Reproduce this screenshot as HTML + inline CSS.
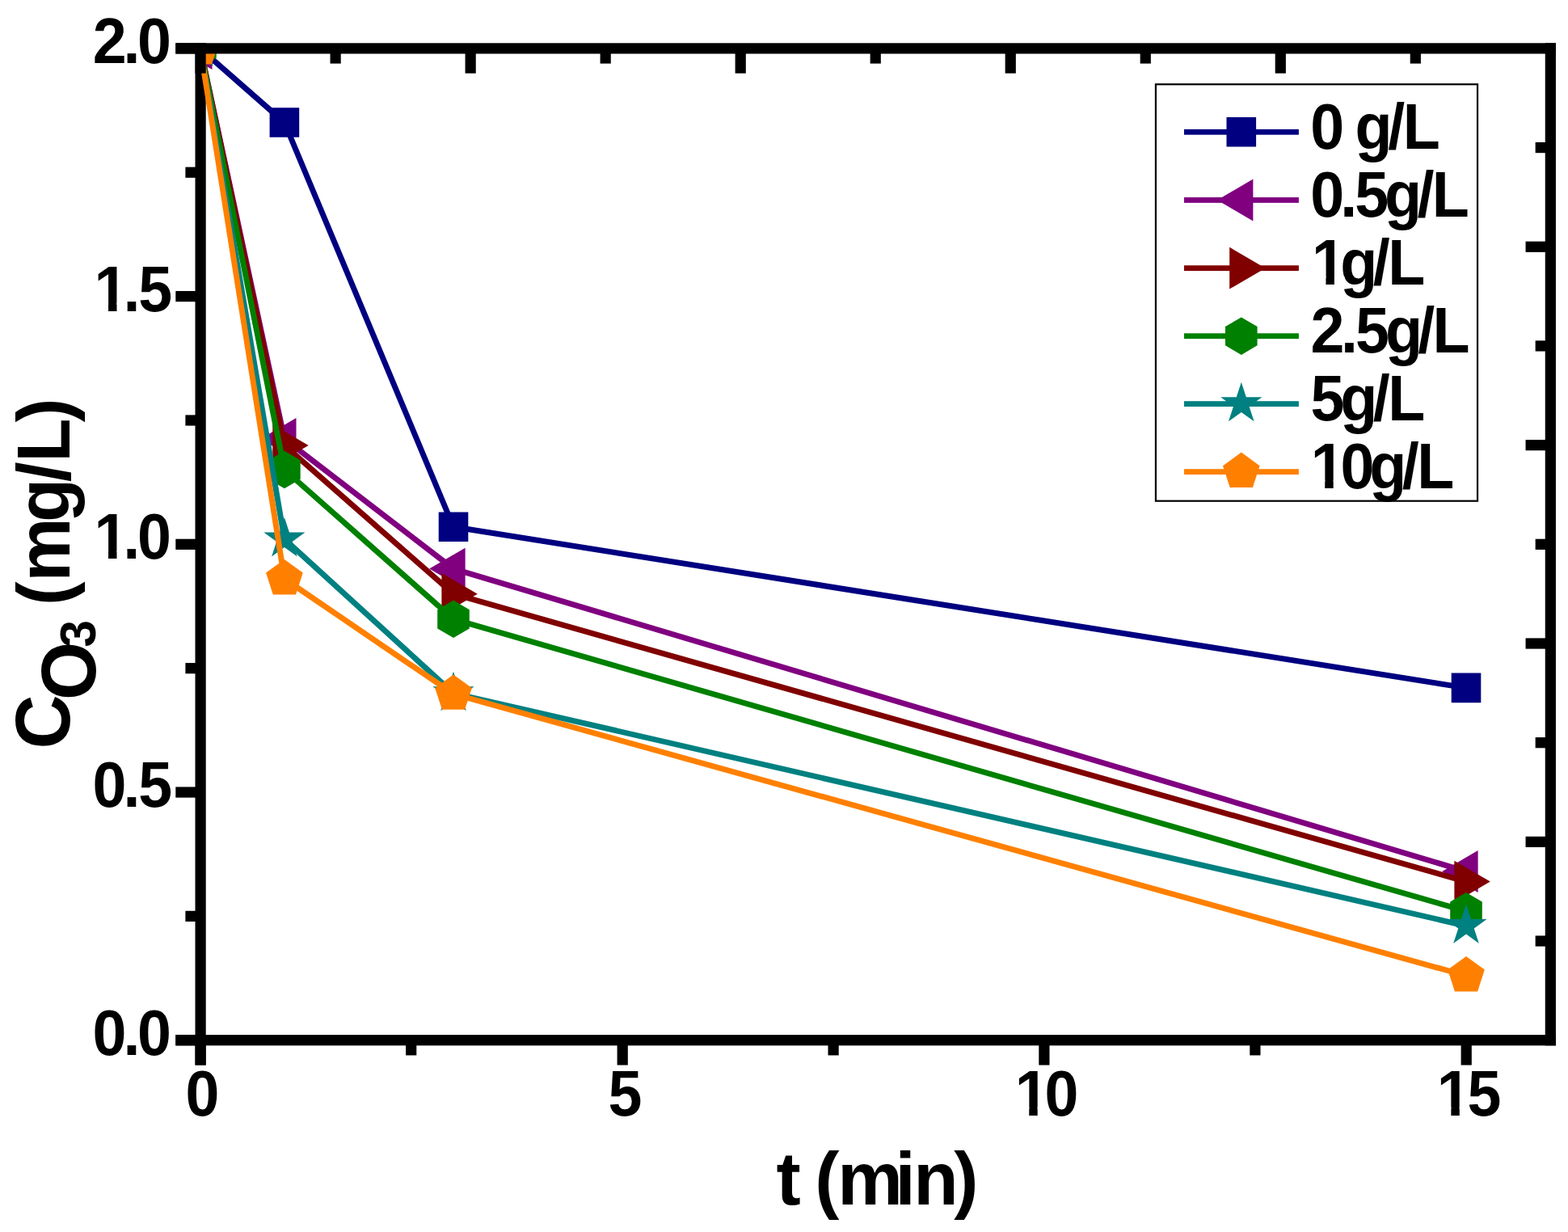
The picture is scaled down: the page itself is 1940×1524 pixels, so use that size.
<!DOCTYPE html>
<html lang="en">
<head>
<meta charset="utf-8">
<title>Ozone concentration versus time</title>
<style>
html,body{margin:0;padding:0;background:#fff;}
body{width:1940px;height:1524px;overflow:hidden;}
svg{display:block;}
text{white-space:pre;}
</style>
</head>
<body>
<svg width="1940" height="1524" viewBox="0 0 1940 1524">
<rect x="0" y="0" width="1940" height="1524" fill="#fff"/>
<g id="axes-under">
<rect x="241.5" y="53.3" width="13.2" height="1264.25" fill="#000"/>
<rect x="217.3" y="1280.15" width="1707.65" height="13.2" fill="#000"/>
<rect x="217.3" y="53.3" width="25.2" height="13.2" fill="#000"/>
<rect x="229.4" y="206.66" width="13.1" height="13.2" fill="#000"/>
<rect x="217.3" y="360.01" width="25.2" height="13.2" fill="#000"/>
<rect x="229.4" y="513.37" width="13.1" height="13.2" fill="#000"/>
<rect x="217.3" y="666.72" width="25.2" height="13.2" fill="#000"/>
<rect x="229.4" y="820.08" width="13.1" height="13.2" fill="#000"/>
<rect x="217.3" y="973.44" width="25.2" height="13.2" fill="#000"/>
<rect x="229.4" y="1126.79" width="13.1" height="13.2" fill="#000"/>
<rect x="217.3" y="1280.15" width="25.2" height="13.2" fill="#000"/>
<rect x="241.5" y="1292.35" width="13.2" height="25.2" fill="#000"/>
<rect x="502.1" y="1292.35" width="13.2" height="13.1" fill="#000"/>
<rect x="763.6" y="1292.35" width="13.2" height="25.2" fill="#000"/>
<rect x="1024.5" y="1292.35" width="13.2" height="13.1" fill="#000"/>
<rect x="1285.3" y="1292.35" width="13.2" height="25.2" fill="#000"/>
<rect x="1546.3" y="1292.35" width="13.2" height="13.1" fill="#000"/>
<rect x="1807.6" y="1292.35" width="13.2" height="25.2" fill="#000"/>
</g>
<clipPath id="plot"><rect x="248.1" y="59.9" width="1670.25" height="1226.85"/></clipPath>
<g id="data" clip-path="url(#plot)">
<g fill="#000080" stroke="none">
<polyline fill="none" stroke="#000080" stroke-width="7" stroke-linejoin="round" points="247.9,60.2 351.9,151.5 561,651.8 1814,850.9"/>
<polygon points="229.6,41.9 266.2,41.9 266.2,78.5 229.6,78.5"/>
<polygon points="333.6,133.2 370.2,133.2 370.2,169.8 333.6,169.8"/>
<polygon points="542.7,633.5 579.3,633.5 579.3,670.1 542.7,670.1"/>
<polygon points="1795.7,832.6 1832.3,832.6 1832.3,869.2 1795.7,869.2"/>
</g>
<g fill="#800080" stroke="none">
<polyline fill="none" stroke="#800080" stroke-width="7" stroke-linejoin="round" points="247.9,60.2 351.9,543 561,703.6 1814,1078"/>
<polygon points="218.1,60.2 262.5,34.3 262.5,86.1"/>
<polygon points="322.1,543 366.5,517.1 366.5,568.9"/>
<polygon points="531.2,703.6 575.6,677.7 575.6,729.5"/>
<polygon points="1784.2,1078 1828.6,1052.1 1828.6,1103.9"/>
</g>
<g fill="#800000" stroke="none">
<polyline fill="none" stroke="#800000" stroke-width="7" stroke-linejoin="round" points="247.9,60.2 351.9,550.9 561,734.7 1814,1090.6"/>
<polygon points="277.7,60.2 233.3,34.3 233.3,86.1"/>
<polygon points="381.7,550.9 337.3,525 337.3,576.8"/>
<polygon points="590.8,734.7 546.4,708.8 546.4,760.6"/>
<polygon points="1843.8,1090.6 1799.4,1064.7 1799.4,1116.5"/>
</g>
<g fill="#008000" stroke="none">
<polyline fill="none" stroke="#008000" stroke-width="7" stroke-linejoin="round" points="247.9,60.2 351.9,581 561,765.8 1814,1127.2"/>
<polygon points="247.9,36.9 267.7,48.55 267.7,71.85 247.9,83.5 228.1,71.85 228.1,48.55"/>
<polygon points="351.9,557.7 371.7,569.35 371.7,592.65 351.9,604.3 332.1,592.65 332.1,569.35"/>
<polygon points="561,742.5 580.8,754.15 580.8,777.45 561,789.1 541.2,777.45 541.2,754.15"/>
<polygon points="1814,1103.9 1833.8,1115.55 1833.8,1138.85 1814,1150.5 1794.2,1138.85 1794.2,1115.55"/>
</g>
<g fill="#008080" stroke="none">
<polyline fill="none" stroke="#008080" stroke-width="7" stroke-linejoin="round" points="247.9,60.2 351.9,666.8 561,857.6 1814,1145.3"/>
<polygon points="247.9,33.3 253.94,51.89 273.48,51.89 257.67,63.38 263.71,81.96 247.9,70.48 232.09,81.96 238.13,63.38 222.32,51.89 241.86,51.89"/>
<polygon points="351.9,639.9 357.94,658.49 377.48,658.49 361.67,669.98 367.71,688.56 351.9,677.08 336.09,688.56 342.13,669.98 326.32,658.49 345.86,658.49"/>
<polygon points="561,830.7 567.04,849.29 586.58,849.29 570.77,860.78 576.81,879.36 561,867.88 545.19,879.36 551.23,860.78 535.42,849.29 554.96,849.29"/>
<polygon points="1814,1118.4 1820.04,1136.99 1839.58,1136.99 1823.77,1148.48 1829.81,1167.06 1814,1155.58 1798.19,1167.06 1804.23,1148.48 1788.42,1136.99 1807.96,1136.99"/>
</g>
<g fill="#ff8000" stroke="none">
<polyline fill="none" stroke="#ff8000" stroke-width="7" stroke-linejoin="round" points="247.9,60.2 351.9,716 561,858.4 1814,1207"/>
<polygon points="247.9,36.2 270.73,52.78 262.01,79.62 233.79,79.62 225.07,52.78"/>
<polygon points="351.9,692 374.73,708.58 366.01,735.42 337.79,735.42 329.07,708.58"/>
<polygon points="561,834.4 583.83,850.98 575.11,877.82 546.89,877.82 538.17,850.98"/>
<polygon points="1814,1183 1836.83,1199.58 1828.11,1226.42 1799.89,1226.42 1791.17,1199.58"/>
</g>
</g>
<g id="axes-over">
<rect x="217.3" y="53.3" width="1707.65" height="13.2" fill="#000"/>
<rect x="1911.75" y="53.3" width="13.2" height="1240.05" fill="#000"/>
<rect x="241.5" y="53.3" width="13.2" height="37.4" fill="#000"/>
<rect x="408.52" y="65.5" width="13.2" height="13.1" fill="#000"/>
<rect x="1899.65" y="175.98" width="13.1" height="13.2" fill="#000"/>
<rect x="575.55" y="65.5" width="13.2" height="25.2" fill="#000"/>
<rect x="1887.55" y="298.67" width="25.2" height="13.2" fill="#000"/>
<rect x="742.57" y="65.5" width="13.2" height="13.1" fill="#000"/>
<rect x="1899.65" y="421.35" width="13.1" height="13.2" fill="#000"/>
<rect x="909.6" y="65.5" width="13.2" height="25.2" fill="#000"/>
<rect x="1887.55" y="544.04" width="25.2" height="13.2" fill="#000"/>
<rect x="1076.62" y="65.5" width="13.2" height="13.1" fill="#000"/>
<rect x="1899.65" y="666.72" width="13.1" height="13.2" fill="#000"/>
<rect x="1243.65" y="65.5" width="13.2" height="25.2" fill="#000"/>
<rect x="1887.55" y="789.41" width="25.2" height="13.2" fill="#000"/>
<rect x="1410.67" y="65.5" width="13.2" height="13.1" fill="#000"/>
<rect x="1899.65" y="912.09" width="13.1" height="13.2" fill="#000"/>
<rect x="1577.7" y="65.5" width="13.2" height="25.2" fill="#000"/>
<rect x="1887.55" y="1034.78" width="25.2" height="13.2" fill="#000"/>
<rect x="1744.72" y="65.5" width="13.2" height="13.1" fill="#000"/>
<rect x="1899.65" y="1157.47" width="13.1" height="13.2" fill="#000"/>
</g>
<g id="legend">
<rect x="1429.95" y="104.3" width="398.1" height="515.4" fill="#fff" stroke="#000" stroke-width="2.2"/>
<g fill="#000080">
<rect x="1465" y="159.9" width="141.9" height="6.8" fill="#000080"/>
<polygon points="1517.5,145 1554.1,145 1554.1,181.6 1517.5,181.6"/>
</g>
<g fill="#800080">
<rect x="1465" y="244.1" width="141.9" height="6.8" fill="#800080"/>
<polygon points="1506,247.5 1550.4,221.6 1550.4,273.4"/>
</g>
<g fill="#800000">
<rect x="1465" y="328.3" width="141.9" height="6.8" fill="#800000"/>
<polygon points="1565.6,331.7 1521.2,305.8 1521.2,357.6"/>
</g>
<g fill="#008000">
<rect x="1465" y="412.3" width="141.9" height="6.8" fill="#008000"/>
<polygon points="1535.8,392.4 1555.6,404.05 1555.6,427.35 1535.8,439 1516,427.35 1516,404.05"/>
</g>
<g fill="#008080">
<rect x="1465" y="496.2" width="141.9" height="6.8" fill="#008080"/>
<polygon points="1535.8,472.7 1541.84,491.29 1561.38,491.29 1545.57,502.78 1551.61,521.36 1535.8,509.88 1519.99,521.36 1526.03,502.78 1510.22,491.29 1529.76,491.29"/>
</g>
<g fill="#ff8000">
<rect x="1465" y="580.2" width="141.9" height="6.8" fill="#ff8000"/>
<polygon points="1535.8,559.6 1558.63,576.18 1549.91,603.02 1521.69,603.02 1512.97,576.18"/>
</g>
</g>
<g id="labels" font-family="'Liberation Sans', sans-serif" font-weight="bold" fill="#000">
<g transform="scale(0.95,1)"><text font-size="79.4" x="120.84 160.43 179.03" y="78">2.0</text></g>
<clipPath id="cy15"><path clip-rule="evenodd" d="M-3000 -3000H6000V6000H-3000ZM121.04 374.79H141.11V386.71H121.04ZM152.1 374.79H165.5V386.71H152.1Z"/></clipPath><g transform="scale(0.95,1)"><text clip-path="url(#cy15)" font-size="79.4" x="122.62 160.48 180.23" y="384.71">1.5</text></g>
<clipPath id="cy10"><path clip-rule="evenodd" d="M-3000 -3000H6000V6000H-3000ZM121.04 681.5H141.11V693.42H121.04ZM152.1 681.5H165.5V693.42H152.1Z"/></clipPath><g transform="scale(0.95,1)"><text clip-path="url(#cy10)" font-size="79.4" x="122.62 160.38 179.03" y="691.42">1.0</text></g>
<g transform="scale(0.95,1)"><text font-size="79.4" x="120.66 160.43 180.23" y="998.14">0.5</text></g>
<g transform="scale(0.95,1)"><text font-size="79.4" x="120.66 160.43 179.03" y="1304.85">0.0</text></g>
<g transform="scale(0.95,1)"><text font-size="79.4" x="241.56" y="1379.6">0</text></g>
<g transform="scale(0.95,1)"><text font-size="79.4" x="792.17" y="1379.6">5</text></g>
<clipPath id="cx10"><path clip-rule="evenodd" d="M-3000 -3000H6000V6000H-3000ZM1320.19 1369.67H1340.27V1381.6H1320.19ZM1351.26 1369.67H1364.66V1381.6H1351.26Z"/></clipPath><g transform="scale(0.95,1)"><text clip-path="url(#cx10)" font-size="79.4" x="1321.78 1360.56" y="1379.6">10</text></g>
<clipPath id="cx15"><path clip-rule="evenodd" d="M-3000 -3000H6000V6000H-3000ZM1869.77 1369.67H1889.85V1381.6H1869.77ZM1900.83 1369.67H1913.72V1381.6H1900.83Z"/></clipPath><g transform="scale(0.95,1)"><text clip-path="url(#cx15)" font-size="79.4" x="1871.36 1910.96" y="1379.6">15</text></g>
<g transform="scale(0.95,1)"><text font-size="79.4" x="1706.56 1730.38 1764.83 1807.6 1827.16" y="183.8">0 g/L</text></g>
<g transform="scale(0.95,1)"><text font-size="79.4" x="1706.56 1745.48 1764.54 1803.25 1845.71 1865.1" y="268">0.5g/L</text></g>
<clipPath id="cl2"><path clip-rule="evenodd" d="M-3000 -3000H6000V6000H-3000ZM1706.72 342.27H1726.79V354.2H1706.72ZM1737.78 342.27H1751.18V354.2H1737.78Z"/></clipPath><g transform="scale(0.95,1)"><text clip-path="url(#cl2)" font-size="79.4" x="1708.31 1745.57 1788.13 1807.68" y="352.2">1g/L</text></g>
<g transform="scale(0.95,1)"><text font-size="79.4" x="1706.95 1746.32 1765.38 1804.09 1846.55 1865.89" y="436.2">2.5g/L</text></g>
<g transform="scale(0.95,1)"><text font-size="79.4" x="1706.86 1745.57 1788.13 1807.68" y="520.1">5g/L</text></g>
<clipPath id="cl5"><path clip-rule="evenodd" d="M-3000 -3000H6000V6000H-3000ZM1705.46 594.18H1725.53V606.1H1705.46ZM1736.52 594.18H1749.92V606.1H1736.52Z"/></clipPath><g transform="scale(0.95,1)"><text clip-path="url(#cl5)" font-size="79.4" x="1707.05 1745.82 1783.46 1826.02 1845.58" y="604.1">10g/L</text></g>
<g transform="scale(0.98,1)"><text font-size="92.5" x="980.01 1007.76 1028.72 1057.42 1130.15 1153.2 1204.36" y="1490">t (min)</text></g>
</g>
<g transform="translate(85.6,921) rotate(-90) scale(0.96,1)" font-family="'Liberation Sans', sans-serif" font-weight="bold" fill="#000"><text font-size="92.5" y="0"><tspan font-size="96.8" x="-5.77" y="0">C</tspan><tspan font-size="96.8" x="57.24" y="32.5">O</tspan><tspan font-size="63.3" x="125.37" y="32.5">3</tspan><tspan x="165.37 179.27 209.89 286.38 338.45 363.78 415.5" y="0"> (mg/L)</tspan></text></g>
</svg>
</body>
</html>
